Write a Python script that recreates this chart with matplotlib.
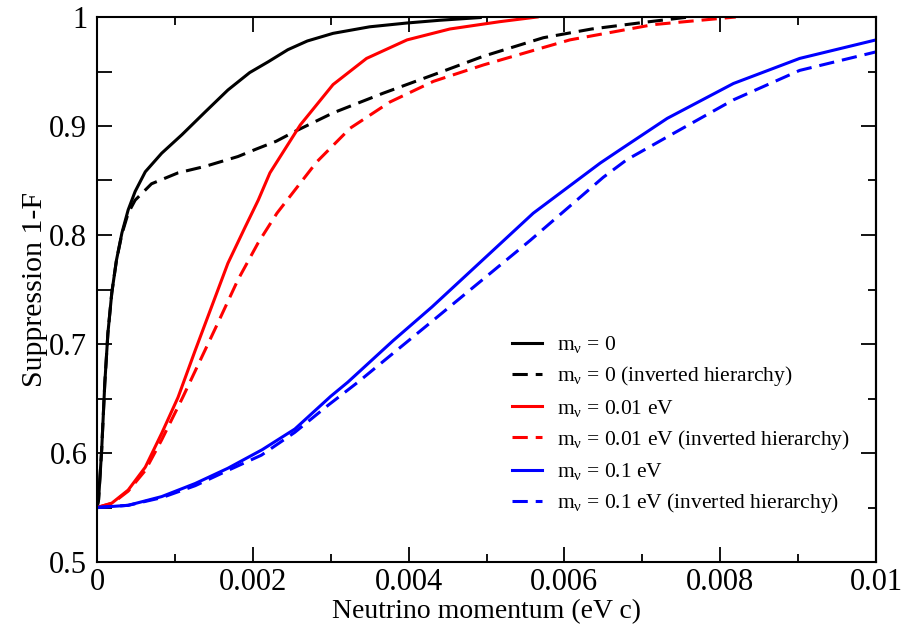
import numpy as np
import matplotlib
matplotlib.use('Agg')
import matplotlib.pyplot as plt
from matplotlib.ticker import MultipleLocator, FuncFormatter

plt.rcParams['font.family'] = ['Liberation Serif', 'DejaVu Serif']
plt.rcParams['mathtext.fontset'] = 'custom'
plt.rcParams['mathtext.rm'] = 'Liberation Serif'
plt.rcParams['mathtext.it'] = 'Liberation Serif:italic'

# m_nu = 0
k0_x = [0, 0.00002, 0.00006, 0.0001, 0.00014, 0.00019, 0.00025, 0.00032, 0.0004,
        0.00049, 0.00062, 0.00083, 0.00109, 0.00139, 0.00168, 0.00196, 0.0022,
        0.00245, 0.0027, 0.00303, 0.0035, 0.00398, 0.0044, 0.00492]
k0_y = [0.55, 0.557, 0.603, 0.664, 0.710, 0.747, 0.777, 0.802, 0.823,
        0.840, 0.858, 0.875, 0.892, 0.913, 0.933, 0.949, 0.959,
        0.970, 0.978, 0.985, 0.991, 0.9945, 0.997, 0.9995]
# m_nu = 0, inverted
k0i_x = [0, 0.00002, 0.00006, 0.0001, 0.00014, 0.00019, 0.00025, 0.00032, 0.0004,
         0.00049, 0.0007, 0.00104, 0.00139, 0.00181, 0.00205, 0.0023, 0.00254,
         0.00303, 0.00367, 0.00432, 0.00496, 0.00573, 0.00635, 0.00701, 0.0076]
k0i_y = [0.55, 0.557, 0.603, 0.664, 0.710, 0.747, 0.777, 0.801, 0.820,
         0.832, 0.847, 0.857, 0.863, 0.872, 0.879, 0.886, 0.895,
         0.912, 0.930, 0.947, 0.964, 0.981, 0.989, 0.995, 1.0]
# m_nu = 0.01 eV
r_x = [0, 0.00019, 0.0004, 0.00062, 0.00083, 0.00104, 0.00126, 0.00147, 0.00168,
       0.0019, 0.00207, 0.00222, 0.00261, 0.00303, 0.00346, 0.00398, 0.00453,
       0.00517, 0.00565]
r_y = [0.55, 0.554, 0.566, 0.587, 0.618, 0.651, 0.694, 0.734, 0.774,
       0.807, 0.832, 0.857, 0.901, 0.938, 0.962, 0.979, 0.989,
       0.9957, 1.0]
# m_nu = 0.01 eV, inverted
ri_x = [0, 0.0002, 0.0004, 0.00062, 0.00083, 0.0011, 0.00155, 0.00181, 0.00207,
        0.00231, 0.00282, 0.00325, 0.00376, 0.00432, 0.00496, 0.00573, 0.00607,
        0.00714, 0.0082]
ri_y = [0.55, 0.554, 0.565, 0.584, 0.612, 0.651, 0.719, 0.759, 0.793,
        0.820, 0.867, 0.898, 0.922, 0.941, 0.956, 0.972, 0.979,
        0.993, 1.0]
# m_nu = 0.1 eV
b_x = [0, 0.0004, 0.00083, 0.00126, 0.00168, 0.00212, 0.00254, 0.003, 0.00322,
       0.0038, 0.0043, 0.0056, 0.00646, 0.00671, 0.00732, 0.00817, 0.00902,
       0.01]
b_y = [0.55, 0.552, 0.560, 0.572, 0.586, 0.603, 0.622, 0.652, 0.665,
       0.703, 0.734, 0.820, 0.866, 0.878, 0.907, 0.939, 0.962,
       0.979]
# m_nu = 0.1 eV, inverted
bi_x = [0, 0.0004, 0.00083, 0.00126, 0.00168, 0.00211, 0.00254, 0.00297, 0.00335,
        0.00427, 0.00556, 0.0065, 0.0068, 0.00732, 0.00817, 0.00902, 0.01]
bi_y = [0.55, 0.552, 0.559, 0.570, 0.584, 0.598, 0.619, 0.644, 0.665,
        0.719, 0.795, 0.853, 0.869, 0.890, 0.924, 0.951, 0.968]

labels = [r'm$_\mathrm{\nu}$ = 0',
          r'm$_\mathrm{\nu}$ = 0 (inverted hierarchy)',
          r'm$_\mathrm{\nu}$ = 0.01 eV',
          r'm$_\mathrm{\nu}$ = 0.01 eV (inverted hierarchy)',
          r'm$_\mathrm{\nu}$ = 0.1 eV',
          r'm$_\mathrm{\nu}$ = 0.1 eV (inverted hierarchy)']

fig = plt.figure(figsize=(9.05, 6.29), dpi=100)
ax = fig.add_axes([97/905, 1-562/629, (876-97)/905, (562-17)/629])

lw = 2.2
dash = (5, 2.6)
ax.plot(k0_x, k0_y, color='black', lw=lw, label=labels[0])
ax.plot(k0i_x, k0i_y, color='black', lw=lw, dashes=dash, label=labels[1])
ax.plot(r_x, r_y, color='#ff0000', lw=lw, label=labels[2])
ax.plot(ri_x, ri_y, color='#ff0000', lw=lw, dashes=dash, label=labels[3])
ax.plot(b_x, b_y, color='#0000ff', lw=lw, label=labels[4])
ax.plot(bi_x, bi_y, color='#0000ff', lw=lw, dashes=dash, label=labels[5])

ax.set_xlim(0, 0.01)
ax.set_ylim(0.5, 1.0)
ax.xaxis.set_major_locator(MultipleLocator(0.002))
ax.xaxis.set_minor_locator(MultipleLocator(0.001))
ax.yaxis.set_major_locator(MultipleLocator(0.1))
ax.yaxis.set_minor_locator(MultipleLocator(0.05))
fmt = FuncFormatter(lambda v, p: '%g' % round(v, 6))
ax.xaxis.set_major_formatter(fmt)
ax.yaxis.set_major_formatter(fmt)

for s in ax.spines.values():
    s.set_linewidth(1.5)
ax.tick_params(which='both', direction='in', top=True, right=False, width=1.3)
ax.tick_params(which='major', length=11, labelsize=22)
ax.tick_params(axis='x', which='minor', length=6)
ax.tick_params(axis='y', which='minor', length=11)
ax.tick_params(axis='x', pad=4)
ax.tick_params(axis='y', pad=7)

ax2 = ax.secondary_yaxis('right')
ax2.yaxis.set_major_locator(MultipleLocator(0.1))
ax2.yaxis.set_minor_locator(MultipleLocator(0.05))
ax2.tick_params(which='both', direction='in', width=1.3, labelright=False)
ax2.tick_params(which='major', length=11)
ax2.tick_params(which='minor', length=6)
ax2.spines['right'].set_linewidth(1.5)

ax.set_xlabel('Neutrino momentum (eV c)', fontsize=20, labelpad=2)
ax.set_ylabel('Suppression 1-F', fontsize=21.5, labelpad=1)

ax.legend(loc='upper left', bbox_to_anchor=(0.533, 0.418), frameon=False,
          fontsize=15.5, handlelength=1.4, handletextpad=0.7,
          labelspacing=0.43, borderpad=0, borderaxespad=0)

fig.savefig('out.png', dpi=100)
